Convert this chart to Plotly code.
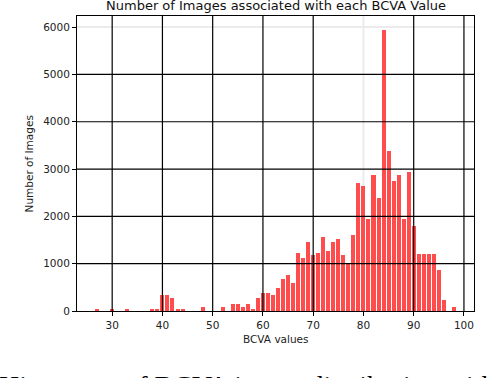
import plotly.graph_objects as go

# ---- data ----
bcva_values = [27, 30, 33, 38, 39, 40, 41, 42, 43, 44, 48, 52, 54, 55, 56, 57, 58, 59,
               60, 61, 62, 63, 64, 65, 66, 67, 68, 69, 70, 71, 72, 73, 74, 75, 76, 77,
               78, 79, 80, 81, 82, 83, 84, 85, 86, 87, 88, 89, 90, 91, 92, 93, 94, 95,
               96, 98]
image_counts = [45, 45, 45, 45, 45, 345, 345, 280, 45, 45, 90, 90, 150, 150, 90, 150, 45, 280,
                385, 385, 345, 490, 680, 765, 595, 1230, 1125, 1465, 1190, 1230, 1570, 1275, 1465, 1530, 1190, 1020,
                1615, 2710, 2645, 1955, 2880, 2395, 5930, 3385, 2750, 2880, 1955, 2945, 1805, 1200, 1200, 1200, 1200, 875,
                235, 85]
x_ticks = [30, 40, 50, 60, 70, 80, 90, 100]
y_ticks = [0, 1000, 2000, 3000, 4000, 5000, 6000]
dark_x_grid = [30, 40, 50, 60, 70, 90, 100]
light_x_grid = [80]
dark_y_grid = [1000, 2000, 3000, 4000, 5000]
light_y_grid = [6000]

title_text = "Number of Images associated with each BCVA Value"
x_label = "BCVA values"
y_label = "Number of Images"
caption = "Histogram of BCVA image distribution within the"

FONT = "DejaVu Sans"
BAR_COLOR = "rgb(255,77,77)"

fig = go.Figure()
fig.add_trace(go.Bar(x=bcva_values, y=image_counts, width=0.8,
                     marker=dict(color=BAR_COLOR, line=dict(width=0)),
                     showlegend=False, hoverinfo="skip"))

shapes = []
for v in light_x_grid:
    shapes.append(dict(type="line", xref="x", yref="paper", x0=v, x1=v, y0=0, y1=1,
                       line=dict(color="#ebebeb", width=2), layer="below"))
for v in light_y_grid:
    shapes.append(dict(type="line", xref="paper", yref="y", x0=0, x1=1, y0=v, y1=v,
                       line=dict(color="#ebebeb", width=2), layer="below"))
for v in dark_x_grid:
    shapes.append(dict(type="line", xref="x", yref="paper", x0=v, x1=v, y0=0, y1=1,
                       line=dict(color="black", width=1.2), layer="above"))
for v in dark_y_grid:
    shapes.append(dict(type="line", xref="paper", yref="y", x0=0, x1=1, y0=v, y1=v,
                       line=dict(color="black", width=1.2), layer="above"))

annotations = [
    dict(text=title_text, xref="paper", yref="paper", x=0.5, y=1.0, yshift=1,
         xanchor="center", yanchor="bottom", showarrow=False,
         font=dict(family=FONT, size=13, color="#111")),
    dict(text=x_label, xref="paper", yref="paper", x=0.5, y=-0.094,
         xanchor="center", yanchor="middle", showarrow=False,
         font=dict(family=FONT, size=10.5, color="#222")),
    dict(text=y_label, xref="paper", yref="paper", x=-0.121, y=0.5, textangle=-90,
         xanchor="center", yanchor="middle", showarrow=False,
         font=dict(family=FONT, size=10.5, color="#222")),
    dict(text=caption, xref="paper", yref="paper", x=-0.202, y=-0.192,
         xanchor="left", yanchor="top", showarrow=False,
         font=dict(family="Liberation Serif", size=28, color="black")),
]

fig.update_layout(
    width=496, height=378,
    margin=dict(l=77, r=22, t=16, b=67, pad=0),
    paper_bgcolor="white", plot_bgcolor="white",
    shapes=shapes, annotations=annotations,
    bargap=0,
    font=dict(family=FONT, size=10.5, color="#222"),
)
fig.update_xaxes(range=[23.0, 102.0], tickvals=x_ticks, ticktext=[str(t) for t in x_ticks],
                 showgrid=False, zeroline=False, showline=True, linecolor="black", linewidth=1,
                 mirror=True, ticks="outside", ticklen=4, tickcolor="black", tickwidth=1,
                 tickfont=dict(family=FONT, size=10.5, color="#222"))
fig.update_yaxes(range=[0, 6235], tickvals=y_ticks, ticktext=[str(t) for t in y_ticks],
                 showgrid=False, zeroline=False, showline=True, linecolor="black", linewidth=1,
                 mirror=True, ticks="outside", ticklen=4, tickcolor="black", tickwidth=1,
                 tickfont=dict(family=FONT, size=10.5, color="#222"))

fig.write_html("out.html", config={"displayModeBar": False},
               post_script="document.body.style.margin='0';document.body.style.padding='0';")
